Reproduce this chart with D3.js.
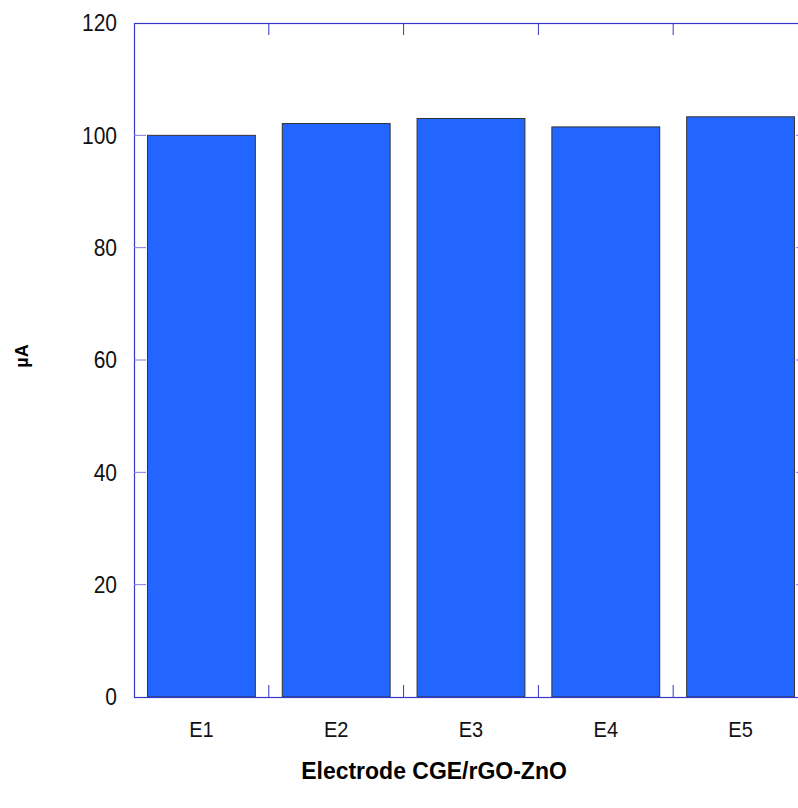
<!DOCTYPE html>
<html lang="en">
<head>
  <meta charset="UTF-8">
  <title>Electrode CGE/rGO-ZnO</title>
  <script src="https://cdn.jsdelivr.net/npm/d3@7/dist/d3.min.js"></script>
  <style>
    body { margin: 0; background: #fff; }
    text { font-family: "Liberation Sans", Arial, sans-serif; }
  </style>
</head>
<body>
  <div id="chart"></div>

  <script>
    // Data
    var electrodes = ["E1", "E2", "E3", "E4", "E5"];
    var currents = [100.0, 102.1, 103.0, 101.5, 103.3];
    var yTicks = [0, 20, 40, 60, 80, 100, 120];

    var W = 798, H = 808;
    // plot area runs slightly past the right edge of the window, as in the original
    var margin = { top: 23, left: 134 },
      width = 674,
      height = 674;

    var svg = d3.select("#chart")
      .append("svg")
      .attr("width", W)
      .attr("height", H);

    var g = svg.append("g")
      .attr("transform", "translate(" + margin.left + "," + margin.top + ")");

    var x = d3.scaleBand()
      .domain(electrodes)
      .range([0, width])
      .paddingInner(0.2)
      .paddingOuter(0.1);

    var y = d3.scaleLinear()
      .domain([0, 120])
      .range([height, 0]);

    var axisCol = "#3636c8", tickCol = "#7b7bea";

    // bars
    g.selectAll(".bar")
      .data(currents)
      .enter()
      .append("rect")
      .attr("class", "bar")
      .attr("x", (d, i) => x(electrodes[i]))
      .attr("y", (d) => y(d))
      .attr("width", x.bandwidth())
      .attr("height", (d) => y(0) - y(d))
      .attr("fill", "#2266ff")
      .attr("stroke", "#333")
      .attr("stroke-width", 1);

    // frame
    g.append("rect")
      .attr("x", 0.5).attr("y", 0.5)
      .attr("width", width).attr("height", height)
      .attr("fill", "none")
      .attr("stroke", axisCol)
      .attr("stroke-width", 1.2);

    // category boundary ticks (inward, top and bottom)
    var step = x.step();
    var bounds = d3.range(1, electrodes.length).map((i) => i * step);
    g.selectAll(".btick")
      .data(bounds)
      .enter()
      .append("line")
      .attr("x1", (d) => d).attr("x2", (d) => d)
      .attr("y1", height).attr("y2", height - 12)
      .attr("stroke", axisCol);
    g.selectAll(".ttick")
      .data(bounds)
      .enter()
      .append("line")
      .attr("x1", (d) => d).attr("x2", (d) => d)
      .attr("y1", 0).attr("y2", 12)
      .attr("stroke", axisCol);

    // y ticks (inward on both sides)
    g.selectAll(".ltick")
      .data(yTicks.slice(1, -1))
      .enter()
      .append("line")
      .attr("x1", 0).attr("x2", 12)
      .attr("y1", (d) => y(d)).attr("y2", (d) => y(d))
      .attr("stroke", tickCol);
    g.selectAll(".rtick")
      .data(yTicks.slice(1, -1))
      .enter()
      .append("line")
      .attr("x1", width).attr("x2", width - 12)
      .attr("y1", (d) => y(d)).attr("y2", (d) => y(d))
      .attr("stroke", tickCol);

    // y tick labels (the original font is slightly tall, so stretch vertically)
    g.selectAll(".ylab")
      .data(yTicks)
      .enter()
      .append("text")
      .attr("transform", (d) => "translate(-17," + y(d) + ") scale(1,1.12)")
      .attr("dy", "0.36em")
      .attr("text-anchor", "end")
      .style("font-size", "21px")
      .style("fill", "#111")
      .text((d) => d);

    // category labels
    g.selectAll(".xlab")
      .data(electrodes)
      .enter()
      .append("text")
      .attr("transform", (d) => "translate(" + (x(d) + x.bandwidth() / 2) + "," + (height + 40) + ") scale(1,1.12)")
      .attr("text-anchor", "middle")
      .style("font-size", "20px")
      .style("fill", "#111")
      .text((d) => d);

    // axis titles
    svg.append("text")
      .attr("transform", "translate(434,779) scale(1,1.08)")
      .attr("text-anchor", "middle")
      .style("font-size", "23px")
      .style("font-weight", "bold")
      .text("Electrode CGE/rGO-ZnO");

    svg.append("text")
      .attr("transform", "translate(28,356) rotate(-90)")
      .attr("text-anchor", "middle")
      .style("font-size", "18px")
      .style("font-weight", "bold")
      .text("µA");
  </script>
</body>
</html>
